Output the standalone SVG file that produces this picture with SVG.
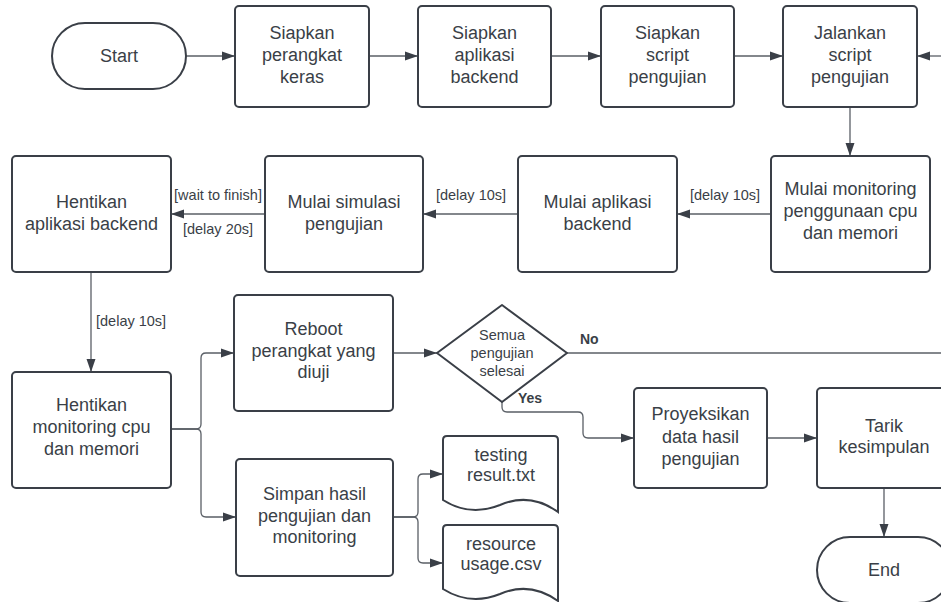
<svg xmlns="http://www.w3.org/2000/svg" width="941" height="602" viewBox="0 0 941 602">
<defs>
<marker id="arr" markerUnits="userSpaceOnUse" markerWidth="14" markerHeight="10" refX="13" refY="5" orient="auto">
<path d="M0,0.5 L13,5 L0,9.5 z" fill="#3a3f47"/>
</marker>
<style>
.box{fill:#fff;stroke:#3a3f47;stroke-width:2}
.t{font-family:"Liberation Sans",Arial,sans-serif;font-size:18px;fill:#3a3f47;text-anchor:middle}
.s{font-family:"Liberation Sans",Arial,sans-serif;font-size:14.5px;fill:#3a3f47;text-anchor:middle}
.d{font-family:"Liberation Sans",Arial,sans-serif;font-size:14.5px;fill:#3a3f47;text-anchor:middle}
.b{font-family:"Liberation Sans",Arial,sans-serif;font-size:14px;font-weight:bold;fill:#3a3f47}
.c{fill:none;stroke:#5a5f66;stroke-width:1.3}
.ca{fill:none;stroke:#5a5f66;stroke-width:1.3;marker-end:url(#arr)}
</style>
</defs>
<rect width="941" height="602" fill="#fff"/>
<g id="connectors">
<path class="ca" d="M186,56 H235"/>
<path class="ca" d="M369,56 H418"/>
<path class="ca" d="M551,56 H601"/>
<path class="ca" d="M734,56 H783"/>
<path class="ca" d="M941,56 H917"/>
<path class="ca" d="M850,107 V156"/>
<path class="ca" d="M771,214 H677"/>
<path class="ca" d="M518,214 H423"/>
<path class="ca" d="M265,214 H171"/>
<path class="ca" d="M91,272 V372"/>
<path class="ca" d="M171,429 H196 Q201,429 201,424 V358 Q201,353 206,353 H234"/>
<path class="ca" d="M171,429 H196 Q201,429 201,434 V512 Q201,517 206,517 H236"/>
<path class="ca" d="M393,353 H437"/>
<path class="c" d="M567,353 H941"/>
<path class="ca" d="M502,402 V407 Q502,412 507,412 H578 Q583,412 583,417 V433 Q583,438 588,438 H634"/>
<path class="ca" d="M767,438 H817"/>
<path class="ca" d="M884,488 V537"/>
<path class="ca" d="M393,517 H413 Q418,517 418,512 V479 Q418,474 423,474 H443"/>
<path class="ca" d="M393,517 H413 Q418,517 418,522 V558 Q418,563 423,563 H443"/>
<text class="s" x="218" y="200">[wait to finish]</text>
<text class="s" x="218" y="234">[delay 20s]</text>
<text class="s" x="471" y="200">[delay 10s]</text>
<text class="s" x="725" y="200">[delay 10s]</text>
<text class="s" x="96" y="326" style="text-anchor:start">[delay 10s]</text>
<text class="b" x="580" y="344">No</text>
<text class="b" x="518" y="403">Yes</text>
</g>
<g id="start">
<rect class="box" x="52" y="23" width="134" height="66" rx="33"/>
<text class="t" x="119" y="62">Start</text>
</g>
<g id="siapkan-perangkat">
<rect class="box" x="235" y="6" width="134" height="101" rx="4"/>
<text class="t" x="302" y="39">Siapkan</text>
<text class="t" x="302" y="61">perangkat</text>
<text class="t" x="302" y="83">keras</text>
</g>
<g id="siapkan-aplikasi">
<rect class="box" x="418" y="6" width="133" height="101" rx="4"/>
<text class="t" x="484.5" y="39">Siapkan</text>
<text class="t" x="484.5" y="61">aplikasi</text>
<text class="t" x="484.5" y="83">backend</text>
</g>
<g id="siapkan-script">
<rect class="box" x="601" y="6" width="133" height="101" rx="4"/>
<text class="t" x="667.5" y="39">Siapkan</text>
<text class="t" x="667.5" y="61">script</text>
<text class="t" x="667.5" y="83">pengujian</text>
</g>
<g id="jalankan-script">
<rect class="box" x="783" y="6" width="134" height="101" rx="4"/>
<text class="t" x="850" y="39">Jalankan</text>
<text class="t" x="850" y="61">script</text>
<text class="t" x="850" y="83">pengujian</text>
</g>
<g id="mulai-monitoring">
<rect class="box" x="771" y="156" width="159" height="116" rx="4"/>
<text class="t" x="850.5" y="195">Mulai monitoring</text>
<text class="t" x="850.5" y="217">penggunaan cpu</text>
<text class="t" x="850.5" y="239">dan memori</text>
</g>
<g id="mulai-aplikasi">
<rect class="box" x="518" y="156" width="159" height="116" rx="4"/>
<text class="t" x="597.5" y="208">Mulai aplikasi</text>
<text class="t" x="597.5" y="230">backend</text>
</g>
<g id="mulai-simulasi">
<rect class="box" x="265" y="156" width="158" height="116" rx="4"/>
<text class="t" x="344" y="208">Mulai simulasi</text>
<text class="t" x="344" y="230">pengujian</text>
</g>
<g id="hentikan-aplikasi">
<rect class="box" x="12" y="156" width="159" height="116" rx="4"/>
<text class="t" x="91.5" y="208">Hentikan</text>
<text class="t" x="91.5" y="230">aplikasi backend</text>
</g>
<g id="hentikan-monitoring">
<rect class="box" x="12" y="372" width="159" height="116" rx="4"/>
<text class="t" x="91.5" y="411">Hentikan</text>
<text class="t" x="91.5" y="433">monitoring cpu</text>
<text class="t" x="91.5" y="455">dan memori</text>
</g>
<g id="reboot">
<rect class="box" x="234" y="295" width="159" height="116" rx="4"/>
<text class="t" x="313.5" y="335">Reboot</text>
<text class="t" x="313.5" y="357">perangkat yang</text>
<text class="t" x="313.5" y="378">diuji</text>
</g>
<g id="simpan">
<rect class="box" x="236" y="459" width="157" height="117" rx="4"/>
<text class="t" x="314.5" y="500">Simpan hasil</text>
<text class="t" x="314.5" y="522">pengujian dan</text>
<text class="t" x="314.5" y="543">monitoring</text>
</g>
<g id="decision">
<path class="box" d="M437,353 L502,305 L567,353 L502,402 Z" stroke-linejoin="round"/>
<text class="d" x="502" y="340">Semua</text>
<text class="d" x="502" y="358">pengujian</text>
<text class="d" x="502" y="376">selesai</text>
</g>
<g id="testing-result">
<path class="box" d="M447,436 H554 Q558,436 558,440 V512 Q530,492 500,505 Q470,517 443,500 V440 Q443,436 447,436 Z"/>
<text class="t" x="501" y="461">testing</text>
<text class="t" x="501" y="481">result.txt</text>
</g>
<g id="resource-usage">
<path class="box" d="M447,525 H554 Q558,525 558,529 V601 Q530,581 500,594 Q470,606 443,589 V529 Q443,525 447,525 Z"/>
<text class="t" x="501" y="550">resource</text>
<text class="t" x="501" y="570">usage.csv</text>
</g>
<g id="proyeksikan">
<rect class="box" x="634" y="388" width="133" height="100" rx="4"/>
<text class="t" x="700.5" y="420">Proyeksikan</text>
<text class="t" x="700.5" y="443">data hasil</text>
<text class="t" x="700.5" y="465">pengujian</text>
</g>
<g id="tarik">
<rect class="box" x="817" y="388" width="134" height="100" rx="4"/>
<text class="t" x="884" y="432">Tarik</text>
<text class="t" x="884" y="453">kesimpulan</text>
</g>
<g id="end">
<rect class="box" x="817" y="537" width="134" height="66" rx="33"/>
<text class="t" x="884" y="576">End</text>
</g>
</svg>
